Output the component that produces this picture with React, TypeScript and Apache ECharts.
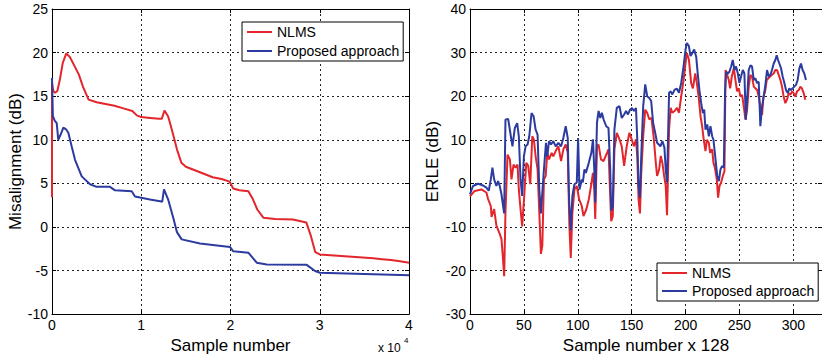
import React, { useEffect, useRef } from "react";
import * as echarts from "echarts";

// ---------- Left panel: Misalignment (dB) vs sample number ----------
const misNlmsX = [0, 0, 150, 350, 600, 900, 1200, 1600, 2000, 2500, 3000, 3500, 4100, 5000, 6000, 7000, 8000, 9000, 9500, 10000, 11000, 12000, 12300, 12600, 13000, 13200, 13600, 14000, 14500, 15000, 16000, 17000, 18000, 19000, 19900, 20300, 21000, 22000, 22500, 23000, 23700, 25000, 27000, 28500, 29000, 29500, 30000, 32000, 34000, 36000, 37000, 38000, 39000, 40000];
const misNlms = [3.4, 16.5, 15.6, 15.4, 15.6, 17.0, 18.8, 19.9, 19.5, 18.5, 17.5, 16.0, 14.6, 14.3, 14.1, 13.9, 13.6, 13.3, 12.8, 12.6, 12.5, 12.4, 12.4, 13.35, 12.7, 12.0, 10.5, 8.9, 7.35, 6.9, 6.5, 6.1, 5.7, 5.5, 5.2, 4.4, 4.2, 4.1, 3.2, 2.0, 1.05, 0.9, 0.85, 0.5, -1.0, -2.9, -3.15, -3.3, -3.45, -3.6, -3.7, -3.8, -3.95, -4.1];

const misPropX = [0, 100, 300, 530, 700, 970, 1270, 1570, 1830, 2200, 2580, 3330, 4260, 5000, 6500, 7060, 8930, 9300, 10980, 12100, 12350, 12550, 13030, 13600, 14000, 14530, 16580, 19940, 20310, 22000, 22940, 24060, 28540, 29470, 30030, 35000, 40000];
const misProp = [17.1, 12.7, 12.2, 11.9, 10.0, 10.6, 11.4, 11.2, 10.8, 9.25, 7.7, 5.8, 4.9, 4.6, 4.6, 4.2, 4.1, 3.5, 3.15, 2.95, 2.9, 4.3, 3.1, 1.0, -0.6, -1.43, -1.9, -2.3, -2.8, -2.95, -4.1, -4.3, -4.35, -5.06, -5.25, -5.4, -5.55];

// ---------- Right panel: ERLE (dB) vs sample number x 128 ----------
const erleNlmsX = [0, 4.3, 10.6, 15.2, 16.8, 19.3, 20, 22.4, 24.5, 27.6, 29.2, 30.4, 31.7, 32.9, 34.8, 37, 38.5, 40.4, 42.2, 44.1, 45.3, 46.9, 48.4, 50.3, 52.2, 54, 55.9, 57.8, 59.3, 60.9, 62.7, 64.3, 65.8, 67.1, 68.6, 70.2, 71.7, 73.3, 75.8, 77.3, 79.5, 82, 84.5, 86.6, 88.8, 90.7, 92.2, 93.5, 95, 96.9, 99.1, 101.2, 103.7, 105.3, 107.9, 110.2, 112.3, 114.1, 115.3, 116.2, 117.8, 119.3, 121.5, 123.9, 126.4, 128.5, 130.1, 131, 132.5, 134, 136.2, 138.7, 140.8, 143, 145.4, 147.9, 150, 152.1, 154, 155.2, 156.4, 157.7, 158.9, 160.7, 162.6, 164.4, 166.3, 168.4, 170.6, 172.4, 173.6, 175.5, 177, 178.5, 180.1, 181.6, 182.8, 184.7, 186.2, 187.7, 189.9, 192, 193.9, 196, 198.2, 200, 201.2, 203.1, 204.6, 205.2, 206.8, 209, 210.5, 212.3, 213.9, 215.4, 216.9, 218.5, 219.8, 221.6, 222.8, 224.7, 225.9, 227.2, 229, 230.2, 231.5, 233, 234.6, 236.1, 237.1, 238.3, 240.1, 241.4, 242.9, 244.8, 246.3, 247.8, 249.4, 250.9, 252.5, 254, 255.6, 257.1, 258.6, 260.2, 261.7, 263.3, 264.8, 266.4, 267.9, 269.4, 271, 272.2, 273.8, 275.3, 276.9, 278.4, 280.2, 281.8, 283.3, 284.9, 286.4, 288, 289.5, 291, 292.6, 294.1, 295.7, 297.2, 298.8, 300.3, 301.9, 303.4, 305, 306.5, 308, 309.6, 311.1];
const erleNlms = [-3.0, -1.75, -1.4, -2.1, -3.6, -5.2, -7.7, -5.9, -9.7, -11.6, -12.8, -16.6, -21.3, -6.7, 6.6, 5.5, 0.9, 4.3, 3.6, 4.3, -1.4, -5.9, -9.9, -2.9, 4.7, 4.0, -0.2, 10.8, 10.0, 6.2, 3.2, -6.7, -16.2, -14.3, 0.9, 1.7, 7.0, 5.5, 7.0, 6.2, 7.4, 8.5, 5.1, 7.8, 8.9, 7.0, -9.7, -17.1, -6.7, -1.4, -0.6, -3.6, -5.2, -7.5, -6.0, -3.7, -0.6, 2.4, -1.4, -8.2, 8.5, 8.9, 5.5, 5.1, 6.6, 7.8, -2.9, -8.7, -7.5, 7.8, 11.6, 10.1, 8.5, 4.0, 8.5, 11.6, 10.1, 8.5, 10.1, 6.3, -3.7, -6.9, 2.4, 10.8, 16.9, 16.2, 14.7, 15.0, 10.1, 4.7, 1.7, 3.2, 6.3, 4.7, 1.7, -0.6, -7.3, 12.4, 17.3, 16.2, 16.6, 17.3, 16.2, 20.0, 23.8, 27.6, 29.9, 28.4, 24.6, 23.0, 21.8, 25.2, 23.0, 19.5, 15.4, 13.1, 10.0, 7.4, 10.0, 9.3, 7.0, 7.8, 4.7, 3.6, 0.9, -3.3, -0.6, 0.2, 1.7, 2.8, 26.0, 25.2, 23.7, 21.8, 24.5, 26.4, 23.7, 21.1, 21.8, 19.9, 20.3, 17.6, 14.6, 16.9, 22.2, 24.9, 24.5, 22.2, 21.8, 21.4, 19.9, 17.6, 15.7, 19.9, 21.1, 23.7, 24.1, 24.5, 24.9, 25.2, 26.0, 26.0, 24.9, 23.7, 22.2, 19.9, 18.4, 19.2, 20.7, 20.3, 21.1, 20.7, 19.9, 21.1, 21.4, 22.2, 21.8, 20.7, 19.2];

const erlePropX = [0, 2.8, 7.5, 12.1, 15.2, 17.4, 19.3, 20.8, 22.4, 24.5, 26.1, 27.6, 29.2, 30.7, 31.7, 32.9, 35.4, 37.9, 39.4, 41.6, 43.8, 45.3, 46.9, 48.4, 50, 51.6, 53.4, 55, 57.1, 59, 60.9, 62.7, 64.3, 65.8, 67.1, 68.6, 70.5, 71.7, 73.3, 75.2, 77.3, 79.5, 82, 84.5, 86.6, 88.8, 90.7, 91.9, 93.5, 95, 96.9, 99.1, 100.3, 101.6, 103.7, 104.7, 106.2, 107.5, 110.2, 112.6, 114.1, 115.3, 116.2, 117.8, 119.3, 120.9, 122.4, 123.9, 126.4, 128.5, 130.1, 131, 132.5, 134, 136.2, 138.7, 140.8, 143, 144.8, 146.6, 148.5, 150.3, 152.1, 154, 155.2, 156.4, 157.7, 158.9, 160.7, 162.6, 164.4, 166.3, 168.1, 169.9, 171.8, 173.6, 175.2, 176.7, 178.5, 180.4, 181.6, 182.8, 184.7, 186.2, 187.7, 189.9, 192, 193.9, 196, 198.2, 200, 201.2, 203.1, 204.6, 206.1, 208, 209.9, 211.4, 213, 214.5, 216.1, 217.3, 218.5, 220.1, 221.6, 223.1, 224.7, 225.9, 227.8, 229.4, 230.9, 232.4, 234, 235.5, 236.7, 237.7, 239.2, 240.7, 242.3, 243.8, 245.4, 246.9, 248.5, 250, 251.5, 253.1, 254.6, 255.9, 257.1, 258.6, 260.2, 261.7, 263.3, 264.8, 266.4, 267.9, 269.4, 271, 272.5, 274.1, 275.6, 277.2, 278.7, 280.2, 281.8, 283.3, 284.6, 285.8, 287, 288.6, 290.1, 291.7, 293.2, 294.8, 296.3, 297.8, 299.4, 300.9, 302.5, 304, 305.6, 307.1, 308.6, 310.2, 311.7];
const erleProp = [-2.5, -0.6, -0.1, -0.5, -1.0, -1.7, 0.9, 3.6, 0.9, -0.6, 0.5, -0.6, -2.5, -5.2, -6.9, 14.6, 14.8, 10.8, 8.5, 12.7, 13.8, 10.8, 0.9, -2.9, 6.2, 8.5, 8.9, 10.8, 16.1, 15.4, 12.3, 11.2, -1.4, -6.9, -2.1, 3.2, 9.3, 6.2, 9.7, 8.9, 9.7, 8.5, 9.3, 8.5, 10.4, 13.1, 10.4, -3.6, -10.8, -2.9, -0.2, 0.2, 10.4, -1.4, 0.9, 0.2, 3.2, 2.4, 4.7, 7.0, 10.1, 3.2, -4.4, 13.9, 16.6, 15.0, 16.2, 14.7, 13.1, 12.7, 3.2, -6.3, -5.2, 12.4, 17.3, 17.7, 15.0, 15.8, 16.6, 15.8, 16.9, 17.3, 16.6, 17.3, 10.1, -0.6, -3.3, 6.3, 17.7, 22.7, 20.0, 19.6, 18.9, 13.9, 11.6, 9.3, 8.9, 8.5, 9.7, 8.2, 3.2, 0.2, 20.8, 21.1, 20.4, 21.5, 21.7, 20.8, 23.1, 26.9, 30.7, 32.2, 31.5, 29.2, 29.8, 30.7, 29.0, 24.9, 21.1, 18.4, 16.1, 16.9, 12.3, 13.5, 10.8, 13.1, 10.8, 10.0, 5.5, 1.7, 0.5, 3.2, 4.0, 3.6, 21.4, 25.6, 25.2, 25.6, 26.8, 28.3, 26.0, 26.8, 25.2, 23.0, 24.5, 26.0, 25.2, 14.6, 19.2, 26.0, 27.1, 26.8, 23.7, 24.1, 23.0, 23.3, 13.1, 17.6, 19.9, 22.6, 26.0, 24.5, 24.9, 26.0, 27.5, 28.3, 29.4, 28.3, 27.5, 26.4, 24.5, 23.0, 21.4, 20.7, 21.8, 21.4, 21.8, 22.2, 22.6, 23.7, 26.4, 27.5, 26.0, 25.2, 23.7];

const seriesNames = ["NLMS", "Proposed approach"];
const misXTicks = [0, 1, 2, 3, 4];

const RED = "#e3262b";
const BLUE = "#2b3b9f";
const FONT = "Liberation Sans, Arial, Helvetica, sans-serif";
const LINE_ICON = "path://M0,0H25V2H0Z";

const zip = (xs: number[], ys: number[]) => xs.map((x, i) => [x, ys[i]]);

export default function App() {
  const ref = useRef<HTMLDivElement>(null);
  useEffect(() => {
    document.body.style.margin = "0";
    const chart = echarts.init(ref.current!, undefined, { renderer: "svg" });

    const split = { show: true, lineStyle: { color: "#222", type: [2, 3] as any, width: 1 } };
    const axLine = { show: true, onZero: false, lineStyle: { color: "#000", width: 1 } };
    const tick = { show: true, inside: true, length: 4, lineStyle: { color: "#000" } };
    const lbl = { color: "#000", fontSize: 14, fontFamily: FONT };

    const mirrorX = (grid: number, min: number, max: number, interval: number) => ({
      gridIndex: grid, type: "value", position: "top", min, max, interval,
      axisLine: axLine, axisTick: tick, axisLabel: { show: false }, splitLine: { show: false },
    });
    const mirrorY = (grid: number, min: number, max: number, interval: number) => ({
      gridIndex: grid, type: "value", position: "right", min, max, interval,
      axisLine: axLine, axisTick: tick, axisLabel: { show: false }, splitLine: { show: false },
    });

    const rightMax = 326.6;
    const legendData = seriesNames.map((n) => ({ name: n, icon: LINE_ICON }));

    const option: any = {
      animation: false,
      backgroundColor: "#fff",
      textStyle: { fontFamily: FONT },
      grid: [
        { left: 52, top: 9, width: 357, height: 306 },
        { left: 470, top: 9, width: 352, height: 306 },
      ],
      xAxis: [
        {
          gridIndex: 0, type: "value", min: 0, max: 40000, interval: 10000,
          axisLine: axLine, axisTick: tick, splitLine: split,
          axisLabel: { ...lbl, margin: 4, formatter: (v: number) => String(misXTicks[Math.round(v / 10000)] ?? "") },
          name: "Sample number", nameLocation: "middle", nameGap: 20,
          nameTextStyle: { color: "#000", fontSize: 17, fontFamily: FONT },
        },
        mirrorX(0, 0, 40000, 10000),
        {
          gridIndex: 1, type: "value", min: 0, max: rightMax, interval: 50,
          axisLine: axLine, axisTick: tick, splitLine: split,
          axisLabel: { ...lbl, margin: 4, showMaxLabel: false, formatter: (v: number) => (v % 50 === 0 ? String(v) : "") },
          name: "Sample number x 128", nameLocation: "middle", nameGap: 20,
          nameTextStyle: { color: "#000", fontSize: 17, fontFamily: FONT },
        },
        mirrorX(1, 0, rightMax, 50),
      ],
      yAxis: [
        {
          gridIndex: 0, type: "value", min: -10, max: 25, interval: 5,
          axisLine: axLine, axisTick: tick, splitLine: split,
          axisLabel: { ...lbl, margin: 4 },
          name: "Misalignment (dB)", nameLocation: "middle", nameGap: 28,
          nameTextStyle: { color: "#000", fontSize: 17, fontFamily: FONT },
        },
        mirrorY(0, -10, 25, 5),
        {
          gridIndex: 1, type: "value", min: -30, max: 40, interval: 10,
          axisLine: axLine, axisTick: tick, splitLine: split,
          axisLabel: { ...lbl, margin: 4 },
          name: "ERLE (dB)", nameLocation: "middle", nameGap: 29,
          nameTextStyle: { color: "#000", fontSize: 17, fontFamily: FONT },
        },
        mirrorY(1, -30, 40, 10),
      ],
      legend: [
        {
          data: legendData, orient: "vertical", left: 242, top: 22,
          itemWidth: 25, itemHeight: 14, itemGap: 5, padding: [3, 4, 3, 5],
          borderColor: "#000", borderWidth: 1, backgroundColor: "#fff",
          textStyle: { color: "#000", fontSize: 14, fontFamily: FONT },
        },
        {
          data: legendData, orient: "vertical", left: 657, top: 263,
          itemWidth: 25, itemHeight: 14, itemGap: 4, padding: [3, 4, 3, 5],
          borderColor: "#000", borderWidth: 1, backgroundColor: "#fff",
          textStyle: { color: "#000", fontSize: 14, fontFamily: FONT },
        },
      ],
      graphic: [
        { type: "text", left: 378, top: 342, style: { text: "x 10", fontSize: 12, fill: "#000", font: `12px ${FONT}` } },
        { type: "text", left: 404, top: 336, style: { text: "4", fontSize: 8, fill: "#000", font: `8px ${FONT}` } },
      ],
      series: [
        {
          name: "NLMS", type: "line", xAxisIndex: 0, yAxisIndex: 0, symbol: "none",
          data: zip(misNlmsX, misNlms), lineStyle: { color: RED, width: 2 }, itemStyle: { color: RED },
        },
        {
          name: "Proposed approach", type: "line", xAxisIndex: 0, yAxisIndex: 0, symbol: "none",
          data: zip(misPropX, misProp), lineStyle: { color: BLUE, width: 2 }, itemStyle: { color: BLUE },
        },
        {
          name: "NLMS", type: "line", xAxisIndex: 2, yAxisIndex: 2, symbol: "none",
          data: zip(erleNlmsX, erleNlms), lineStyle: { color: RED, width: 2 }, itemStyle: { color: RED },
        },
        {
          name: "Proposed approach", type: "line", xAxisIndex: 2, yAxisIndex: 2, symbol: "none",
          data: zip(erlePropX, erleProp), lineStyle: { color: BLUE, width: 2 }, itemStyle: { color: BLUE },
        },
      ],
    };
    chart.setOption(option);
    return () => chart.dispose();
  }, []);
  return <div ref={ref} style={{ width: 822, height: 359 }} />;
}
